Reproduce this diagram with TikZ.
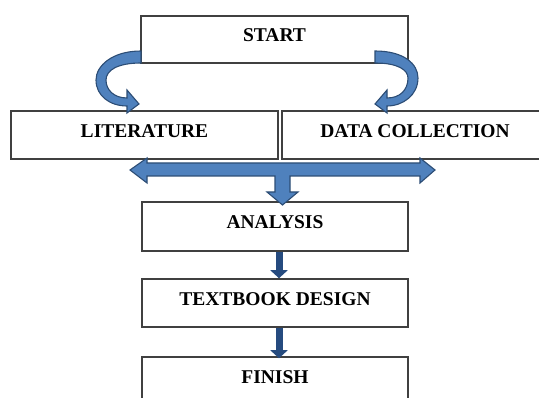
\documentclass[tikz,border=0pt]{standalone}
\usepackage{fontspec}
\setmainfont{Liberation Serif}
\usetikzlibrary{arrows.meta}
\definecolor{boxline}{HTML}{404040}
\definecolor{arrowfill}{HTML}{4F81BD}
\definecolor{arrowedge}{HTML}{2C4D75}
\definecolor{navy}{HTML}{264B7F}
\begin{document}
\begin{tikzpicture}[x=1pt,y=-1pt,
  stepbox/.style={draw=boxline, line width=1.5pt, fill=white, inner sep=0pt,
    minimum width=266pt, minimum height=48pt,
    font=\fontsize{19.5}{20}\selectfont\bfseries,
    text height=12.9pt, text depth=8pt},
  blockarrow/.style={fill=arrowfill, draw=arrowedge, line width=1.1pt, line join=miter},
  thinarrow/.style={draw=navy, line width=7pt,
    -{Triangle[width=17pt 0, length=8pt 0, fill=navy]}}]
\clip (0,0) rectangle (539,398);
\useasboundingbox (0,0) rectangle (539,398);

% process boxes
\node[stepbox, minimum width=267pt, minimum height=47pt] (start) at (274.5,39.5) {START};
\node[stepbox, minimum width=267pt] (lit) at (144.5,135) {LITERATURE};
\node[stepbox] (data) at (415,135) {DATA COLLECTION};
\node[stepbox, minimum height=49pt] (analysis) at (275,226.5) {ANALYSIS};
\node[stepbox] (design) at (275,303) {TEXTBOOK DESIGN};
\node[stepbox] (finish) at (275,381) {FINISH};

% curved arrows from START to the two branches
\path[blockarrow] (141,51) .. controls (112,51) and (96,66) .. (96,80)
  .. controls (96,96) and (110,106) .. (127,106) -- (127,113) -- (139,104)
  -- (127,90) -- (127,98) .. controls (114,98) and (106,90) .. (106,80)
  .. controls (106,70) and (118,63) .. (141,63) -- cycle;
\path[blockarrow] (375,51) .. controls (404,51) and (418,64) .. (418,78)
  .. controls (418,95) and (403,106) .. (387,106) -- (387,113) -- (375,104)
  -- (387,90) -- (387,98) .. controls (400,98) and (408,90) .. (408,78)
  .. controls (408,70) and (398,63) .. (375,63) -- cycle;

% joint arrow from both branches down to ANALYSIS
\path[blockarrow] (130,170) -- (147,158) -- (147,163) -- (420,163) -- (420,158)
  -- (435,170) -- (420,183) -- (420,176) -- (290,176) -- (290,192) -- (298,192)
  -- (282.5,205) -- (267,192) -- (275,192) -- (275,176) -- (147,176)
  -- (147,183) -- cycle;

% straight connectors
\draw[thinarrow] ([xshift=4pt]analysis.south) -- ([xshift=4pt]design.north);
\draw[thinarrow] ([xshift=4pt]design.south) -- ([xshift=4pt,yshift=-2pt]finish.north);
\end{tikzpicture}
\end{document}
